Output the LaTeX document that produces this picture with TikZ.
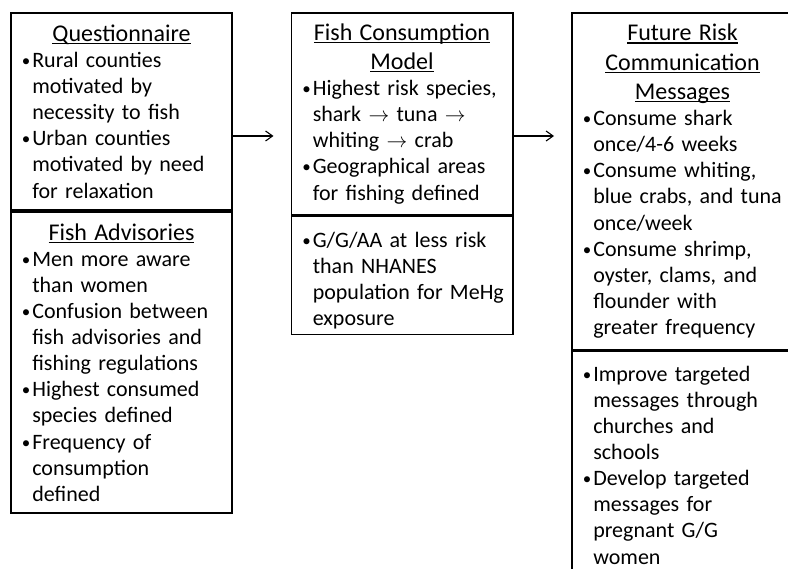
\documentclass[tikz,border=0pt]{standalone}
\usepackage{fontspec}
\setmainfont{Carlito}
\usetikzlibrary{arrows.meta,positioning}

\newcommand{\titlefont}{\fontsize{24pt}{29.3pt}\selectfont}
\newcommand{\bodyfont}{\fontsize{22pt}{26.1pt}\selectfont}
\newcommand{\undl}[1]{\leavevmode\setbox0\hbox{#1}\rlap{\rule[-2.6pt]{\wd0}{1.1pt}}\box0}
\newcommand{\heading}[1]{{\titlefont\centering #1\par}}
\newcommand{\bul}{\par\hangindent=12.5pt\hangafter=1\noindent
    \hbox to 12.5pt{\hskip2pt\raisebox{1pt}{\fontsize{17pt}{17pt}\selectfont\textbullet}\hfil}}

\begin{document}
\begin{tikzpicture}[
    node distance=0pt and 57.5pt,
    box/.style={draw, line width=1.6pt, text width=203.4pt, inner xsep=9pt, inner ysep=4pt, align=left, font=\bodyfont, anchor=north west},
    arrow/.style={-{Straight Barb[length=7pt,width=10pt]}, line width=1.1pt, shorten >=17pt}
]
\useasboundingbox (0,0) rectangle (788pt,-569pt);

% Nodes
\node (q1) [box, minimum height=197.4pt] at (10pt,-12pt) {
    \heading{\undl{Questionnaire}}
    \bul Rural counties\newline motivated by\newline necessity to fish
    \bul Urban counties\newline motivated by need\newline for relaxation\par
};

\node (q2) [box, minimum height=301.4pt, below=of q1] {
    \heading{\undl{Fish Advisories}}
    \bul Men more aware\newline than women
    \bul Confusion~between\newline fish advisories~and\newline fishing regulations
    \bul Highest consumed\newline species defined
    \bul Frequency of\newline consumption\newline defined\par
};

\node (f1) [box, minimum height=201.9pt, right=of q1.north east, anchor=north west] {
    \heading{\undl{Fish Consumption}\\ \undl{Model}}
    \bul Highest risk~species,\newline shark $\rightarrow$ tuna $\rightarrow$\newline whiting $\rightarrow$ crab
    \bul Geographical areas\newline for fishing defined\par
};

\node (f2) [box, minimum height=118.4pt, below=of f1] {
    \bul G/G/AA at less~risk\newline than NHANES\newline \mbox{population for MeHg}\newline exposure\par
};

\node (m1) [box, minimum height=336.9pt, right=of f1.north east, anchor=north west] {
    \heading{\undl{Future Risk}\\ \undl{Communication}\\ \undl{Messages}}
    \bul Consume shark\newline once/4-6 weeks
    \bul Consume whiting,\newline \mbox{blue crabs, and tuna}\newline once/week
    \bul Consume shrimp,\newline oyster, clams, and\newline flounder with\newline greater frequency\par
};

\node (m2) [box, below=of m1] {
    \bul \rule{0pt}{21.5pt}Improve targeted\newline messages through\newline churches and\newline schools
    \bul Develop targeted\newline messages for\newline pregnant G/G\newline women\rule[-40pt]{0pt}{40pt}\par
};

% Connectors
\draw [arrow] ([yshift=-124pt]q1.north east) -- ([yshift=-124pt]f1.north west);
\draw [arrow] ([yshift=-124pt]f1.north east) -- ([yshift=-124pt]m1.north west);

\end{tikzpicture}
\end{document}
